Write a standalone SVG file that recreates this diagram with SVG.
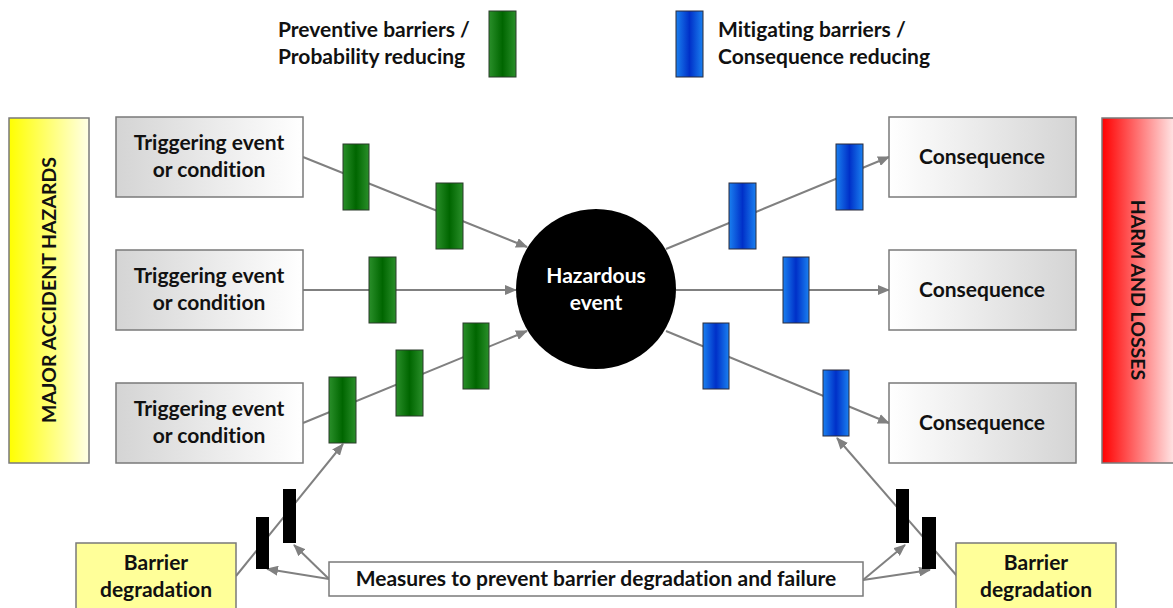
<svg xmlns="http://www.w3.org/2000/svg" width="1173" height="608" viewBox="0 0 1173 608">
  <defs>
    <linearGradient id="gTrig" x1="0" y1="0" x2="1" y2="0">
      <stop offset="0" stop-color="#d4d4d4"/>
      <stop offset="1" stop-color="#ffffff"/>
    </linearGradient>
    <linearGradient id="gCons" x1="0" y1="0" x2="1" y2="0">
      <stop offset="0" stop-color="#ffffff"/>
      <stop offset="1" stop-color="#d4d4d4"/>
    </linearGradient>
    <linearGradient id="gYellow" x1="0" y1="0" x2="1" y2="0">
      <stop offset="0" stop-color="#ffff00"/>
      <stop offset="1" stop-color="#ffffe6"/>
    </linearGradient>
    <linearGradient id="gRed" x1="0" y1="0" x2="1" y2="0">
      <stop offset="0" stop-color="#ff0000"/>
      <stop offset="1" stop-color="#ffffff"/>
    </linearGradient>
    <linearGradient id="gGreen" x1="0" y1="0" x2="1" y2="0">
      <stop offset="0" stop-color="#2a8f2a"/>
      <stop offset="0.5" stop-color="#006600"/>
      <stop offset="1" stop-color="#2a8f2a"/>
    </linearGradient>
    <linearGradient id="gBlue" x1="0" y1="0" x2="1" y2="0">
      <stop offset="0" stop-color="#1a80f0"/>
      <stop offset="0.5" stop-color="#0030c8"/>
      <stop offset="1" stop-color="#1a80f0"/>
    </linearGradient>
    <marker id="arrow" viewBox="0 0 12 10" refX="11" refY="5" markerWidth="12" markerHeight="10" markerUnits="userSpaceOnUse" orient="auto">
      <path d="M0,0 L12,5 L0,10 Z" fill="#808080"/>
    </marker>
    <style>
      text { font-family: Lato, "Liberation Sans", sans-serif; font-weight: bold; font-size: 21px; fill: #111; font-variant-ligatures: none; }
      .mid { text-anchor: middle; }
      .side { font-size: 19.5px; }
      .white { fill: #ffffff; }
      .box { stroke: #7a7a7a; stroke-width: 1.5; }
      .trig { fill: url(#gTrig); }
      .cons { fill: url(#gCons); }
      .deg { fill: #ffff99; }
      .plain { fill: #ffffff; }
      .green { fill: url(#gGreen); stroke: #2b3b2b; stroke-width: 1; }
      .blue { fill: url(#gBlue); stroke: #2b2b3b; stroke-width: 1; }
      .black { fill: #000000; }
      .conn { stroke: #808080; stroke-width: 2; fill: none; }
      .arr { marker-end: url(#arrow); }
    </style>
  </defs>

  <!-- legend -->
  <g id="legend-preventive">
    <text x="278" y="37">Preventive barriers /</text>
    <text x="278" y="64">Probability reducing</text>
    <rect class="green" x="489" y="11" width="27" height="66"/>
  </g>
  <g id="legend-mitigating">
    <rect class="blue" x="676" y="11" width="27" height="66"/>
    <text x="718" y="37">Mitigating barriers /</text>
    <text x="718" y="64">Consequence reducing</text>
  </g>

  <!-- side bands -->
  <g id="hazards-band">
    <rect x="9" y="118" width="80" height="345" fill="url(#gYellow)" class="box"/>
    <text class="mid side" transform="translate(56,290) rotate(-90)">MAJOR ACCIDENT HAZARDS</text>
  </g>
  <g id="harm-band">
    <rect x="1102" y="118" width="80" height="345" fill="url(#gRed)" class="box"/>
    <text class="mid side" transform="translate(1131,290) rotate(90)">HARM AND LOSSES</text>
  </g>

  <!-- connectors -->
  <g id="connectors">
    <line class="conn arr" x1="303" y1="157" x2="527" y2="247"/>
    <line class="conn arr" x1="303" y1="290" x2="516" y2="290"/>
    <line class="conn arr" x1="303" y1="423" x2="527" y2="331"/>
    <line class="conn arr" x1="666" y1="249" x2="889" y2="157"/>
    <line class="conn arr" x1="676" y1="290" x2="889" y2="290"/>
    <line class="conn arr" x1="666" y1="331" x2="889" y2="423"/>
    <line class="conn arr" x1="236" y1="576" x2="343" y2="444"/>
    <line class="conn arr" x1="957" y1="576" x2="837" y2="438"/>
    <line class="conn arr" x1="329" y1="579" x2="267" y2="569"/>
    <line class="conn arr" x1="329" y1="579" x2="294" y2="545"/>
    <line class="conn arr" x1="863" y1="580" x2="905" y2="545"/>
    <line class="conn arr" x1="863" y1="580" x2="930" y2="570"/>
  </g>

  <!-- triggering events -->
  <g id="trigger-1">
    <rect class="box trig" x="116" y="117" width="187" height="80"/>
    <text class="mid" x="209" y="150">Triggering event</text>
    <text class="mid" x="209" y="177">or condition</text>
  </g>
  <g id="trigger-2">
    <rect class="box trig" x="116" y="250" width="187" height="80"/>
    <text class="mid" x="209" y="283">Triggering event</text>
    <text class="mid" x="209" y="310">or condition</text>
  </g>
  <g id="trigger-3">
    <rect class="box trig" x="116" y="383" width="187" height="80"/>
    <text class="mid" x="209" y="416">Triggering event</text>
    <text class="mid" x="209" y="443">or condition</text>
  </g>

  <!-- consequences -->
  <g id="consequence-1">
    <rect class="box cons" x="889" y="117" width="187" height="80"/>
    <text class="mid" x="982" y="164">Consequence</text>
  </g>
  <g id="consequence-2">
    <rect class="box cons" x="889" y="250" width="187" height="80"/>
    <text class="mid" x="982" y="297">Consequence</text>
  </g>
  <g id="consequence-3">
    <rect class="box cons" x="889" y="383" width="187" height="80"/>
    <text class="mid" x="982" y="430">Consequence</text>
  </g>

  <!-- central event -->
  <g id="hazardous-event">
    <circle cx="596" cy="289" r="80" fill="#000000"/>
    <text class="mid white" x="596" y="283">Hazardous</text>
    <text class="mid white" x="596" y="310">event</text>
  </g>

  <!-- preventive barriers -->
  <g id="preventive-barriers">
    <rect class="green" x="343" y="144" width="26" height="66"/>
    <rect class="green" x="436" y="183" width="27" height="66"/>
    <rect class="green" x="369" y="257" width="27" height="66"/>
    <rect class="green" x="329" y="377" width="27" height="66"/>
    <rect class="green" x="396" y="350" width="27" height="66"/>
    <rect class="green" x="463" y="323" width="26" height="66"/>
  </g>

  <!-- mitigating barriers -->
  <g id="mitigating-barriers">
    <rect class="blue" x="729" y="183" width="27" height="66"/>
    <rect class="blue" x="836" y="144" width="27" height="66"/>
    <rect class="blue" x="783" y="257" width="26" height="66"/>
    <rect class="blue" x="703" y="323" width="26" height="66"/>
    <rect class="blue" x="823" y="370" width="26" height="66"/>
  </g>

  <!-- degradation barriers -->
  <g id="degradation-barriers">
    <rect class="black" x="256" y="517" width="13" height="52"/>
    <rect class="black" x="283" y="489" width="13" height="54"/>
    <rect class="black" x="896" y="489" width="13" height="54"/>
    <rect class="black" x="922" y="517" width="14" height="52"/>
  </g>

  <!-- bottom boxes -->
  <g id="degradation-left">
    <rect class="box deg" x="76" y="543" width="160" height="75"/>
    <text class="mid" x="156" y="570">Barrier</text>
    <text class="mid" x="156" y="597">degradation</text>
  </g>
  <g id="degradation-right">
    <rect class="box deg" x="956" y="543" width="160" height="75"/>
    <text class="mid" x="1036" y="570">Barrier</text>
    <text class="mid" x="1036" y="597">degradation</text>
  </g>
  <g id="measures">
    <rect class="box plain" x="329" y="562" width="534" height="34"/>
    <text class="mid" x="596" y="586">Measures to prevent barrier degradation and failure</text>
  </g>
</svg>
